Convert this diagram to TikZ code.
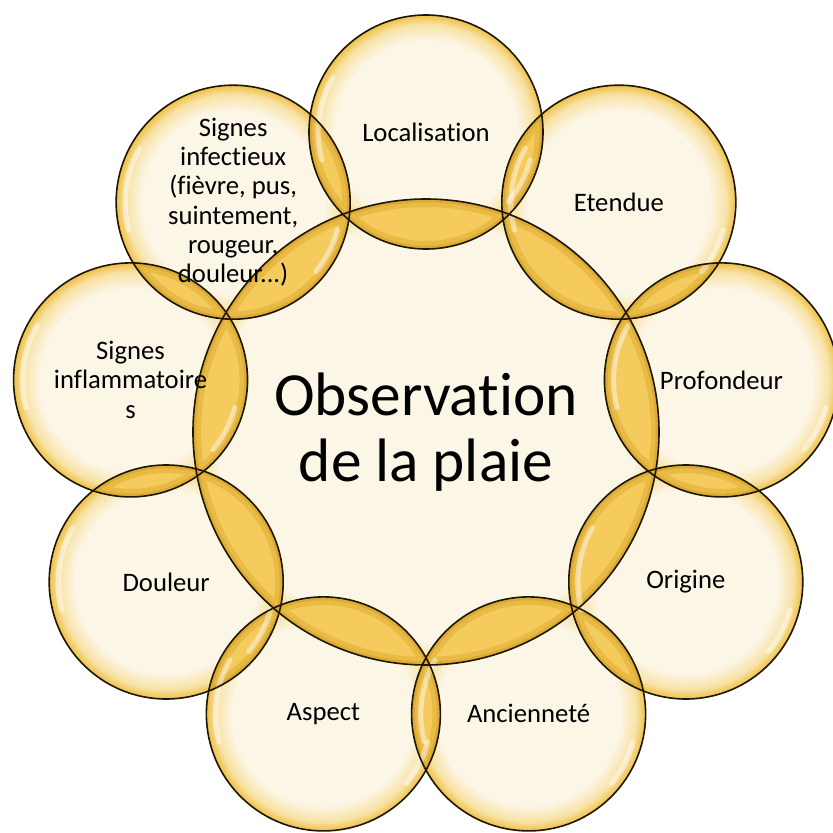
\documentclass[tikz,border=0pt]{standalone}
\usepackage{fontspec}
\setmainfont{Carlito}[Ligatures=NoCommon]

\definecolor{creme}{RGB}{252,246,231}
\definecolor{orpale}{RGB}{248,226,165}
\definecolor{or}{RGB}{238,192,70}
\definecolor{orlentille}{RGB}{244,203,92}
\definecolor{orfonce}{RGB}{205,150,20}
\definecolor{trait}{RGB}{30,22,5}

\pgfdeclareradialshading{bulle}{\pgfpoint{0bp}{0bp}}{color(0bp)=(creme); color(19.5bp)=(creme); color(23bp)=(orpale); color(25bp)=(or); color(50bp)=(or)}
\pgfdeclareradialshading{grandebulle}{\pgfpoint{0bp}{0bp}}{color(0bp)=(creme); color(22.5bp)=(creme); color(24bp)=(orpale); color(25bp)=(or); color(50bp)=(or)}

\begin{document}
\begin{tikzpicture}[x=0.75pt,y=0.75pt,
  contour/.style={draw=trait, line width=1.2pt},
  lueur/.style={draw=orfonce, line width=12, draw opacity=0.3},
  lueurfine/.style={draw=orfonce, line width=5, draw opacity=0.4},
  reflet/.style={draw=white, line width=4, line cap=round, draw opacity=0.45},
  etiquette/.style={align=center, font=\fontsize{20}{22}\selectfont},
  titre/.style={align=center, font=\fontsize{46}{50}\selectfont}]

\useasboundingbox (-426,-401) rectangle (407,432);

% Centres des bulles
\coordinate (centre) at (0,0);
\foreach \ang/\nom in {90/loc,50/ete,10/pro,-30/ori,-70/anc,-110/asp,-150/dou,170/inf,130/sig}
  \coordinate (\nom) at (\ang:300);

% Remplissage des bulles
\shade[shading=grandebulle] (centre) circle (233);
\foreach \nom in {loc,ete,pro,ori,anc,asp,dou,inf,sig}
  \shade[shading=bulle] (\nom) circle (117);

% Lentilles avec la bulle centrale
\foreach \nom in {loc,ete,pro,ori,anc,asp,dou,inf,sig}{
  \begin{scope}
    \clip (\nom) circle (117);
    \clip (centre) circle (233);
    \fill[orlentille] (-426,-401) rectangle (407,432);
    \draw[lueur] (\nom) circle (117) (centre) circle (233);
    \draw[lueurfine] (\nom) circle (117) (centre) circle (233);
  \end{scope}
}

% Lentilles entre bulles voisines
\foreach \a/\b in {loc/ete,ete/pro,pro/ori,ori/anc,anc/asp,asp/dou,dou/inf,inf/sig,sig/loc}{
  \begin{scope}
    \clip (\a) circle (117);
    \clip (\b) circle (117);
    \fill[orlentille] (-426,-401) rectangle (407,432);
    \draw[lueur] (\a) circle (117) (\b) circle (117);
    \draw[lueurfine] (\a) circle (117) (\b) circle (117);
  \end{scope}
}

% Reflets
\foreach \nom in {loc,ete,pro,ori,anc,asp,dou,inf,sig}{
  \draw[reflet] (\nom) ++(150:108) arc[start angle=150, end angle=195, radius=108];
  \draw[reflet] (\nom) ++(-40:108) arc[start angle=-40, end angle=-15, radius=108];
}

% Contours
\draw[contour] (centre) circle (233);
\foreach \nom in {loc,ete,pro,ori,anc,asp,dou,inf,sig}
  \draw[contour] (\nom) circle (117);

% Textes
\node[titre] (obs) at (centre) {Observation\\de la plaie};
\foreach \nom/\texte in {loc/Localisation,ete/Etendue,pro/Profondeur,ori/Origine,
    anc/Ancienneté,asp/Aspect,dou/Douleur,inf/{Signes\\inflammatoire\\s},
    sig/{Signes\\infectieux\\(fièvre, pus,\\suintement,\\rougeur,\\douleur...)}}
  \node[etiquette] (t\nom) at (\nom) {\texte};

\end{tikzpicture}
\end{document}
